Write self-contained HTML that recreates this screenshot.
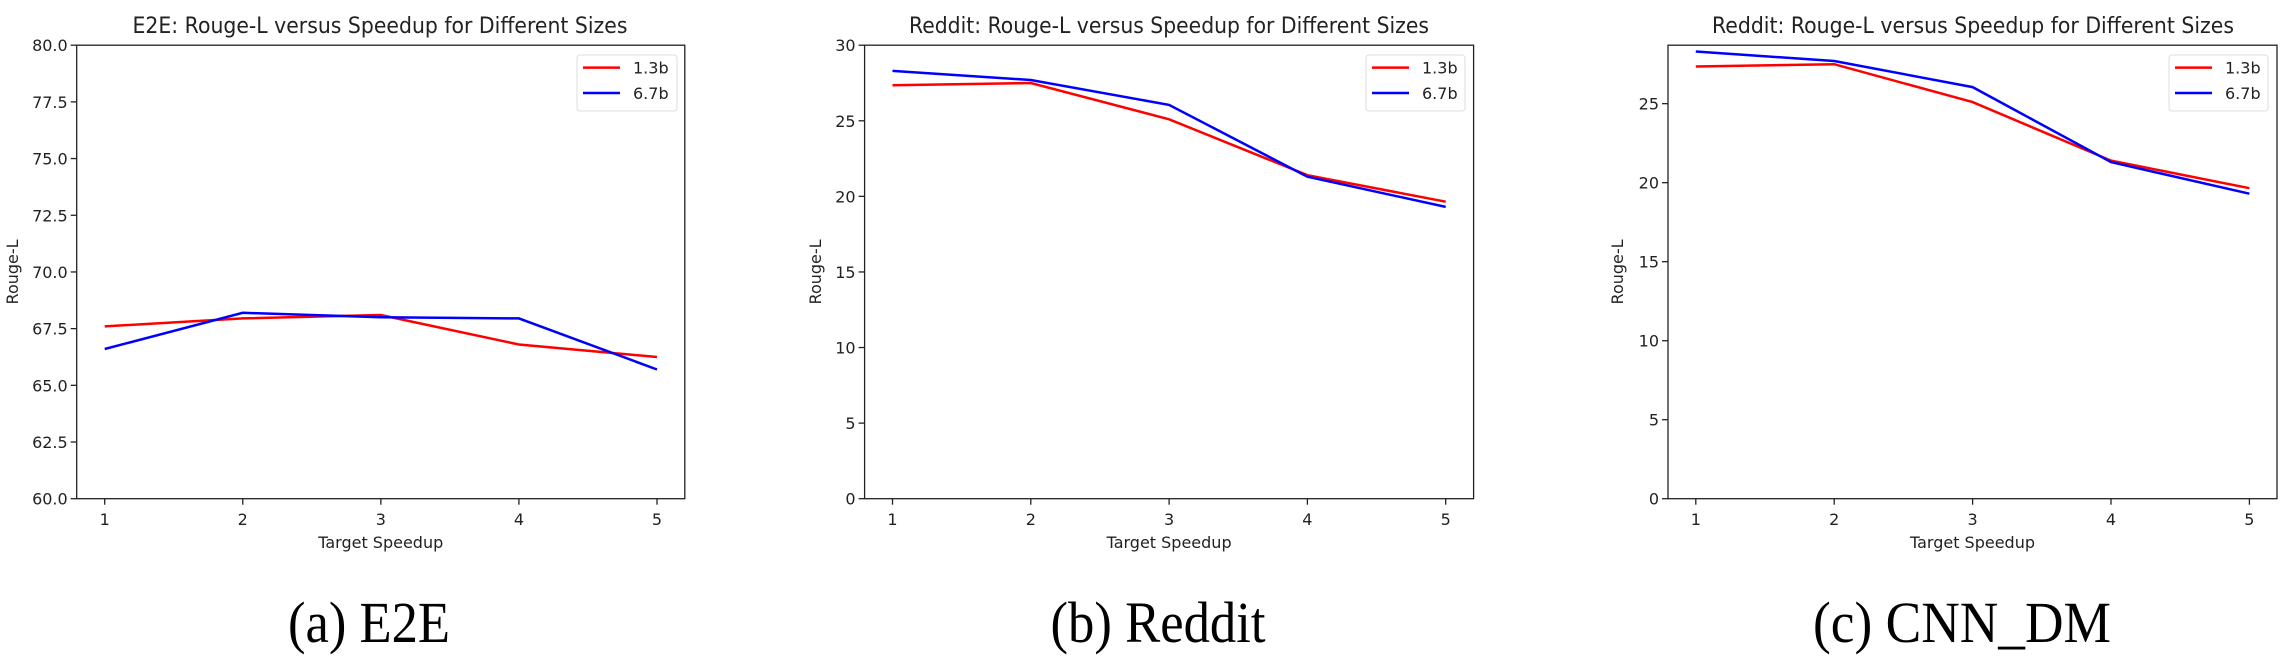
<!DOCTYPE html>
<html><head><meta charset="utf-8"><style>
html,body{margin:0;padding:0;background:#fff}
svg{display:block}
text{font-family:"DejaVu Sans","Liberation Sans",sans-serif;fill:#222}
.cap{font-family:"Liberation Serif",serif;fill:#000}
</style></head><body>
<svg id="fig" width="2291" height="662" viewBox="0 0 2291 662" xmlns="http://www.w3.org/2000/svg"></svg>
<script>
const speedups = [1, 2, 3, 4, 5];
const e2eSmall = [67.6, 67.95, 68.1, 66.8, 66.25];
const e2eLarge = [66.6, 68.2, 68.0, 67.95, 65.7];
const redditSmall = [27.35, 27.5, 25.1, 21.4, 19.65];
const redditLarge = [28.3, 27.7, 26.05, 21.3, 19.3];
const cnnSmall = [27.35, 27.5, 25.1, 21.4, 19.65];
const cnnLarge = [28.3, 27.7, 26.05, 21.3, 19.3];
const e2eTicks = [60, 62.5, 65, 67.5, 70, 72.5, 75, 77.5, 80];
const redditTicks = [0, 5, 10, 15, 20, 25, 30];
const cnnTicks = [0, 5, 10, 15, 20, 25];
const seriesNames = ["1.3b", "6.7b"];

const NS = "http://www.w3.org/2000/svg";
const svg = document.getElementById("fig");
function el(tag, attrs, parent, txt) {
  const e = document.createElementNS(NS, tag);
  for (const k in attrs) e.setAttribute(k, attrs[k]);
  if (txt !== undefined) e.textContent = txt;
  (parent || svg).appendChild(e);
  return e;
}

const panels = [
  {name:"e2e", L:76.7, R:684.8, x1:104.7, x5:657, ymin:60, ymax:80, ticks:e2eTicks, dec:1,
   small:e2eSmall, large:e2eLarge, title:"E2E: Rouge-L versus Speedup for Different Sizes", tcx:380, tlen:495,
   ylx:12, leg:[577,677], cap:"(a) E2E", ccx:369, clen:162},
  {name:"reddit", L:864.6, R:1473.6, x1:892.5, x5:1445.7, ymin:0, ymax:30, ticks:redditTicks, dec:0,
   small:redditSmall, large:redditLarge, title:"Reddit: Rouge-L versus Speedup for Different Sizes", tcx:1169, tlen:520,
   ylx:815, leg:[1366,1465], cap:"(b) Reddit", ccx:1158, clen:215},
  {name:"cnn-dm", L:1668, R:2277, x1:1695.8, x5:2249.4, ymin:0, ymax:28.7, ticks:cnnTicks, dec:0,
   small:cnnSmall, large:cnnLarge, title:"Reddit: Rouge-L versus Speedup for Different Sizes", tcx:1973, tlen:522,
   ylx:1617, leg:[2169,2268], cap:"(c) CNN_DM", ccx:1962, clen:298}
];
const T = 45.2, B = 498.7;

panels.forEach(p => {
  const g = el("g", {});
  
  
  const xs = v => p.x1 + (v - 1) * (p.x5 - p.x1) / 4;
  const ys = v => B - (v - p.ymin) * (B - T) / (p.ymax - p.ymin);

  const t = el("text", {x:p.tcx, y:33, "text-anchor":"middle", "font-size":22, textLength:p.tlen, lengthAdjust:"spacingAndGlyphs"}, g, p.title);
  
  

  p.ticks.forEach(v => {
    const y = ys(v);
    el("line", {x1:p.L-6, x2:p.L, y1:y, y2:y, stroke:"#222", "stroke-width":1.3}, g);
    const lb = el("text", {x:p.L-9, y:y+6, "text-anchor":"end", "font-size":16}, g, v.toFixed(p.dec));
    
    
  });
  speedups.forEach(v => {
    const x = xs(v);
    el("line", {x1:x, x2:x, y1:B, y2:B+6, stroke:"#222", "stroke-width":1.3}, g);
    const lb = el("text", {x:x, y:525, "text-anchor":"middle", "font-size":16}, g, String(v));
    
    
  });

  [[p.small, "#ff0000", seriesNames[0]], [p.large, "#0000ff", seriesNames[1]]].forEach(([arr, c, nm]) => {
    const pts = arr.map((v, i) => xs(speedups[i]).toFixed(1) + "," + ys(v).toFixed(1)).join(" ");
    const ln = el("polyline", {points:pts, fill:"none", stroke:c, "stroke-width":2.5}, g);
    
    
  });

  el("rect", {x:p.L, y:T, width:p.R-p.L, height:B-T, fill:"none", stroke:"#222", "stroke-width":1.3}, g);

  const lg = el("g", {}, g);
  
  
  el("rect", {x:p.leg[0], y:55, width:p.leg[1]-p.leg[0], height:56, rx:3, fill:"#fff", stroke:"#ddd", "stroke-width":1}, lg);
  [["#ff0000", seriesNames[0], 67.6], ["#0000ff", seriesNames[1], 93]].forEach(([c, nm, y]) => {
    const e = el("g", {}, lg);
    
    
    el("line", {x1:p.leg[0]+6, x2:p.leg[0]+43, y1:y, y2:y, stroke:c, "stroke-width":2.5}, e);
    el("text", {x:p.leg[0]+56, y:y+6, "font-size":16}, e, nm);
  });

  const xl = el("text", {x:(p.L+p.R)/2, y:548, "text-anchor":"middle", "font-size":16}, g, "Target Speedup");
  
  
  const yl = el("text", {x:0, y:0, "text-anchor":"middle", "font-size":16, transform:`translate(${p.ylx+6},${(T+B)/2}) rotate(-90)`}, g, "Rouge-L");
  
  

  const cp = el("text", {x:p.ccx, y:642, "text-anchor":"middle", "font-size":58, class:"cap", textLength:p.clen, lengthAdjust:"spacingAndGlyphs"}, g, p.cap);
  
  
});
</script>
</body></html>
